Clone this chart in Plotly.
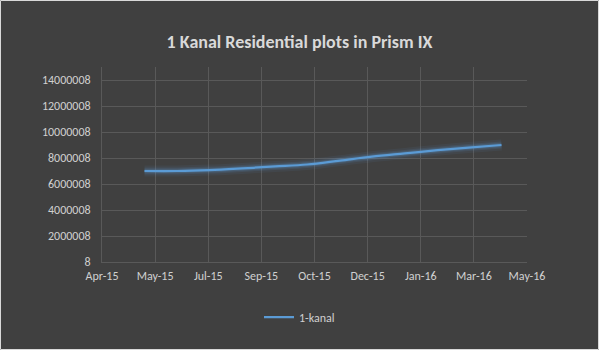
import plotly.graph_objects as go
from datetime import date, timedelta

# ---- data ----
dates = ["2015-05-15", "2015-06-15", "2015-07-15", "2015-08-15", "2015-09-15", "2015-10-15",
         "2015-11-15", "2015-12-15", "2016-01-15", "2016-02-15", "2016-03-15", "2016-04-15"]
values = [7000008, 7000008, 7070008, 7200008, 7350008, 7500008,
          7800008, 8100008, 8350008, 8600008, 8800008, 9000008]
series_name = "1-kanal"
title_text = "1 Kanal Residential plots in Prism IX"
y_ticks = [8, 2000008, 4000008, 6000008, 8000008, 10000008, 12000008, 14000008]
x_start = date(2015, 4, 5)
x_step_days = 50
x_tick_count = 9

x_ticks = [x_start + timedelta(days=x_step_days * k) for k in range(x_tick_count)]
x_tick_text = [d.strftime("%b-%y") for d in x_ticks]

FONT = "Carlito, Calibri, 'Liberation Sans Narrow', Lato, 'Noto Sans', sans-serif"
BG = "#404040"
GRID = "#595959"
TXT = "#d0d0d0"
BLUE = "#5b9bd5"

fig = go.Figure()
# soft glow layers
for w, op in [(11, 0.07), (7, 0.12), (4.5, 0.2)]:
    fig.add_trace(go.Scatter(x=dates, y=values, mode="lines", line=dict(color=BLUE, width=w, shape="spline"),
                             opacity=op, showlegend=False, hoverinfo="skip"))
fig.add_trace(go.Scatter(x=dates, y=values, mode="lines", name=series_name,
                         line=dict(color=BLUE, width=2.25, shape="spline")))

L, R, T, B = 102, 72, 67, 88
W, H = 599, 350
pw, ph = W - L - R, H - T - B

fig.update_layout(
    width=W, height=H,
    margin=dict(l=L, r=R, t=T, b=B),
    paper_bgcolor=BG, plot_bgcolor=BG,
    font=dict(family=FONT, color=TXT, size=12),
    title=dict(text="<b>" + title_text + "</b>", x=0.5, xanchor="center", y=1 - 42 / H, yanchor="middle",
               font=dict(family=FONT, size=18, color="#d9d9d9")),
    showlegend=True,
    legend=dict(orientation="h", x=0.5 - 15 / pw, xanchor="center", y=(262 - 317) / ph, yanchor="middle",
                font=dict(size=12, color=TXT), bgcolor="rgba(0,0,0,0)"),
    xaxis=dict(type="date", range=[x_ticks[0], x_ticks[-1]], tickvals=x_ticks, ticktext=x_tick_text,
               showgrid=True, gridcolor=GRID, gridwidth=1, showline=True, linecolor=GRID, linewidth=1,
               ticks="outside", ticklen=3, tickcolor=BG, zeroline=False, fixedrange=True),
    yaxis=dict(range=[8, 15000008], tickvals=y_ticks, ticktext=[str(v) for v in y_ticks],
               showgrid=True, gridcolor=GRID, gridwidth=1, showline=True, linecolor=GRID, linewidth=1,
               ticks="outside", ticklen=8, tickcolor=BG, zeroline=False, fixedrange=True),
    shapes=[dict(type="rect", xref="paper", yref="paper",
                 x0=(-L + 0.5) / pw, x1=1 + (R - 0.5) / pw, y0=(-B + 0.5) / ph, y1=1 + (T - 0.5) / ph,
                 line=dict(color="#d9d9d9", width=1), fillcolor="rgba(0,0,0,0)", layer="below")],
)

fig.write_html("out.html")
